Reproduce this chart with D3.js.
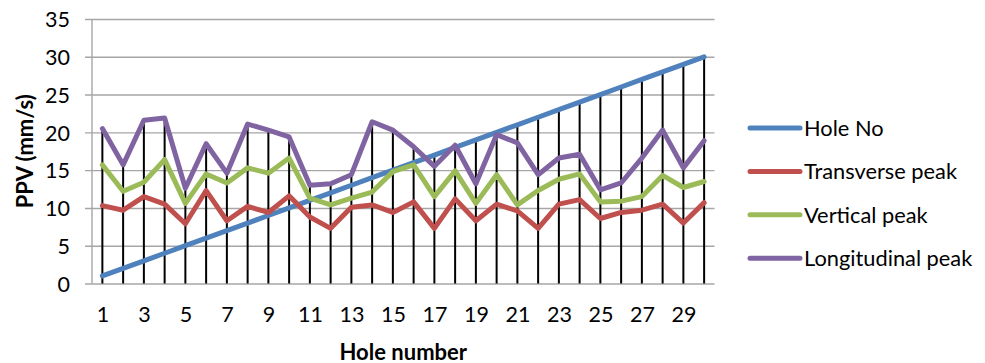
<!DOCTYPE html>
<html>
<head>
<meta charset="utf-8">
<script src="https://cdn.jsdelivr.net/npm/d3@7/dist/d3.min.js"></script>
<style>
  html, body { margin: 0; padding: 0; background: #ffffff; }
  svg { display: block; }
  text { font-family: Lato, "Open Sans", "DejaVu Sans", sans-serif; fill: #000; }
</style>
</head>
<body>
<svg id="chart" width="985" height="363"></svg>
<script>
// Hole numbers (categories)
const holes = [1, 2, 3, 4, 5, 6, 7, 8, 9, 10, 11, 12, 13, 14, 15, 16, 17, 18, 19, 20, 21, 22, 23, 24, 25, 26, 27, 28, 29, 30];

// Series values (PPV, mm/s)
const holeNo = [1, 2, 3, 4, 5, 6, 7, 8, 9, 10, 11, 12, 13, 14, 15, 16, 17, 18, 19, 20, 21, 22, 23, 24, 25, 26, 27, 28, 29, 30];
const transversePeak = [10.3, 9.7, 11.5, 10.5, 7.9, 12.3, 8.3, 10.2, 9.4, 11.6, 8.8, 7.3, 10.1, 10.4, 9.4, 10.8, 7.3, 11.2, 8.3, 10.5, 9.6, 7.3, 10.5, 11.1, 8.6, 9.4, 9.7, 10.5, 8.0, 10.7];
const verticalPeak = [15.7, 12.2, 13.4, 16.4, 10.6, 14.5, 13.3, 15.3, 14.6, 16.6, 11.3, 10.4, 11.3, 12.1, 14.8, 15.7, 11.5, 14.9, 10.6, 14.4, 10.4, 12.3, 13.8, 14.5, 10.8, 10.9, 11.5, 14.3, 12.7, 13.5];
const longitudinalPeak = [20.5, 15.7, 21.6, 21.9, 12.6, 18.5, 14.6, 21.1, 20.3, 19.4, 13.0, 13.2, 14.4, 21.4, 20.3, 18.1, 15.5, 18.3, 13.2, 19.7, 18.6, 14.4, 16.6, 17.1, 12.4, 13.3, 16.6, 20.3, 15.3, 18.9];

// Axis ticks
const yTicks = [0, 5, 10, 15, 20, 25, 30, 35];
const xTickLabels = [1, 3, 5, 7, 9, 11, 13, 15, 17, 19, 21, 23, 25, 27, 29];

const series = [
  { name: "Hole No", values: holeNo, color: "#4F81BD" },
  { name: "Transverse peak", values: transversePeak, color: "#C0504D" },
  { name: "Vertical peak", values: verticalPeak, color: "#9BBB59" },
  { name: "Longitudinal peak", values: longitudinalPeak, color: "#8064A2" }
];

const svg = d3.select("#chart");
const plot = { left: 92, right: 714.5, top: 19, bottom: 283.5 };

const x = d3.scalePoint()
  .domain(holes)
  .range([plot.left, plot.right])
  .padding(0.5);

const y = d3.scaleLinear()
  .domain([0, 35])
  .range([plot.bottom, plot.top]);

// Horizontal gridlines with short outward tick marks
const yAxis = d3.axisLeft(y)
  .tickValues(yTicks)
  .tickSize(-(plot.right - plot.left))
  .tickSizeOuter(0)
  .tickPadding(14)
  .tickFormat(d3.format("d"));

const gy = svg.append("g")
  .attr("transform", `translate(${plot.left},0)`)
  .call(yAxis);
gy.select(".domain").remove();
gy.selectAll(".tick line")
  .attr("x1", -7)
  .attr("stroke", "#a6a6a6")
  .attr("stroke-width", 1.4);
gy.selectAll(".tick text")
  .attr("x", -22)
  .style("font-size", "21.5px")
  .attr("dy", "0.36em");

// Vertical axis line
svg.append("line")
  .attr("x1", plot.left).attr("x2", plot.left)
  .attr("y1", plot.top).attr("y2", plot.bottom)
  .attr("stroke", "#a6a6a6")
  .attr("stroke-width", 1.4);

// Category labels
const xAxis = d3.axisBottom(x)
  .tickValues(xTickLabels)
  .tickSize(0)
  .tickPadding(23);
const gx = svg.append("g")
  .attr("transform", `translate(0,${plot.bottom})`)
  .call(xAxis);
gx.select(".domain").remove();
gx.selectAll(".tick text")
  .style("font-size", "21.5px");

// Drop lines from the highest point of each hole down to zero
const dropData = holes.map((h, i) => ({
  h,
  top: d3.max(series, s => s.values[i])
}));
svg.append("g")
  .selectAll("line")
  .data(dropData)
  .join("line")
  .attr("x1", d => x(d.h)).attr("x2", d => x(d.h))
  .attr("y1", d => y(d.top)).attr("y2", y(0))
  .attr("stroke", "#000")
  .attr("stroke-width", 2);

// Series lines
const line = d3.line()
  .x((d, i) => x(holes[i]))
  .y(d => y(d));

svg.append("g")
  .selectAll("path")
  .data(series)
  .join("path")
  .attr("d", d => line(d.values))
  .attr("fill", "none")
  .attr("stroke", d => d.color)
  .attr("stroke-width", 5)
  .attr("stroke-linejoin", "round")
  .attr("stroke-linecap", "round");

// Axis titles
svg.append("text")
  .attr("x", (plot.left + plot.right) / 2)
  .attr("y", 359.5)
  .attr("text-anchor", "middle")
  .style("font-size", "22px")
  .style("font-weight", "bold")
  .text("Hole number");

svg.append("text")
  .attr("transform", `translate(33,${(plot.top + plot.bottom) / 2}) rotate(-90)`)
  .attr("text-anchor", "middle")
  .style("font-size", "22px")
  .style("font-weight", "bold")
  .text("PPV (mm/s)");

// Legend
const legend = svg.append("g")
  .selectAll("g")
  .data(series)
  .join("g")
  .attr("transform", (d, i) => `translate(750,${128 + i * 43.4})`);
legend.append("line")
  .attr("x1", 0).attr("x2", 50)
  .attr("stroke", d => d.color)
  .attr("stroke-width", 5)
  .attr("stroke-linecap", "round");
legend.append("text")
  .attr("x", 54)
  .attr("dy", "0.36em")
  .style("font-size", "21.8px")
  .text(d => d.name);
</script>
</body>
</html>
